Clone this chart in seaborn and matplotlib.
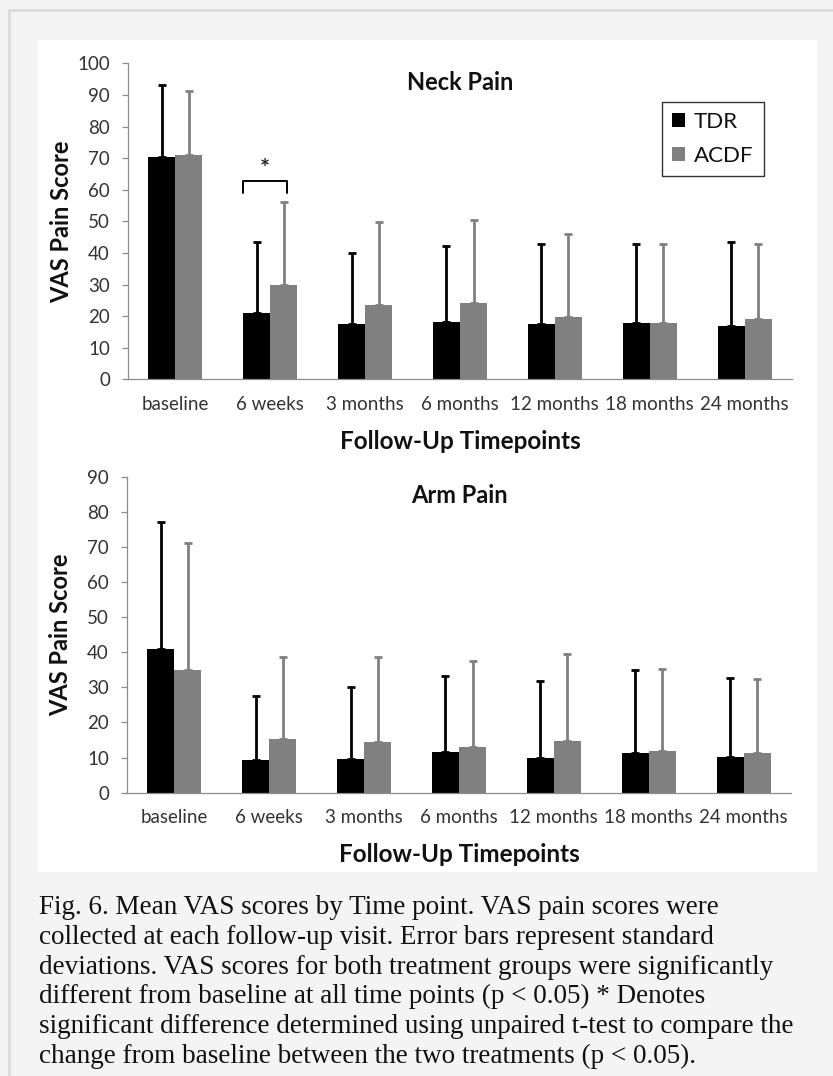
import numpy as np
import pandas as pd
import matplotlib
matplotlib.use('Agg')
import matplotlib.pyplot as plt
import seaborn as sns
from matplotlib.patches import Rectangle, Patch
from matplotlib.ticker import MultipleLocator

# data
timepoints = ['baseline', '6 weeks', '3 months', '6 months', '12 months', '18 months', '24 months']
groups = ['TDR', 'ACDF']

neck_tdr = [70.5, 21.0, 17.5, 18.0, 17.4, 17.9, 17.0]
neck_tdr_sd = [22.5, 22.5, 22.5, 24.2, 25.4, 24.9, 26.5]
neck_acdf = [71.0, 30.0, 23.5, 24.0, 19.6, 17.9, 19.2]
neck_acdf_sd = [20.3, 26.0, 26.3, 26.4, 26.3, 24.8, 23.6]

arm_tdr = [41.0, 9.3, 9.7, 11.6, 10.0, 11.2, 10.3]
arm_tdr_sd = [36.0, 18.2, 20.3, 21.6, 21.9, 23.7, 22.3]
arm_acdf = [35.0, 15.3, 14.5, 13.1, 14.7, 12.0, 11.2]
arm_acdf_sd = [36.0, 23.4, 24.2, 24.5, 24.7, 23.2, 21.1]

caption = ["Fig. 6. Mean VAS scores by Time point. VAS pain scores were",
           "collected at each follow-up visit. Error bars represent standard",
           "deviations. VAS scores for both treatment groups were significantly",
           "different from baseline at all time points (p < 0.05) * Denotes",
           "significant difference determined using unpaired t-test to compare the",
           "change from baseline between the two treatments (p < 0.05)."]

colors = {'TDR': '#000000', 'ACDF': '#808080'}

sns.set_style('white')
plt.rcParams['font.family'] = ['Lato', 'DejaVu Sans']

W, H = 833, 1076
fig = plt.figure(figsize=(W / 100, H / 100), dpi=100, facecolor='#f4f4f4')

# outer frame and white chart panel
fig.patches.append(Rectangle((9 / W, -0.1), 1.2, 1 - 10 / H + 0.1, transform=fig.transFigure,
                             facecolor='none', edgecolor='#dcdcdc', lw=2, zorder=-20))
fig.patches.append(Rectangle((38 / W, 1 - 872 / H), 779 / W, 832 / H, transform=fig.transFigure,
                             facecolor='white', edgecolor='none', zorder=-10))


def panel(rect, title, ymax, tdr, tdr_sd, acdf, acdf_sd):
    ax = fig.add_axes(rect)
    ax.set_facecolor('none')
    df = pd.DataFrame({
        'time': timepoints * 2,
        'group': ['TDR'] * 7 + ['ACDF'] * 7,
        'score': tdr + acdf,
        'sd': tdr_sd + acdf_sd,
    })
    sns.barplot(data=df, x='time', y='score', hue='group', hue_order=groups,
                palette=colors, width=0.57, errorbar=None, legend=False,
                saturation=1, ax=ax, linewidth=0)
    bars = ax.patches[:14]
    for bar, (_, row) in zip(bars, df.iterrows()):
        xc = bar.get_x() + bar.get_width() / 2
        c = colors[row['group']]
        ax.errorbar(xc, row['score'], yerr=[[0], [row['sd']]], fmt='none',
                    ecolor=c, elinewidth=2, capsize=3, capthick=2)
    ax.set_xlim(-0.5, 6.5)
    ax.set_ylim(0, ymax)
    ax.yaxis.set_major_locator(MultipleLocator(10))
    ax.set_xticks(np.arange(-0.5, 7, 1), minor=True)
    for s in ['top', 'right']:
        ax.spines[s].set_visible(False)
    for s in ['left', 'bottom']:
        ax.spines[s].set_color('#8c8c8c')
        ax.spines[s].set_linewidth(0.9)
    ax.tick_params(axis='x', which='major', length=0, pad=12, labelsize=13.5, labelcolor='#333333')
    ax.tick_params(axis='x', which='minor', length=5, width=0.9, color='#8c8c8c', direction='out')
    ax.tick_params(axis='y', length=4, width=0.9, color='#8c8c8c', direction='out', left=True,
                   pad=9, labelsize=13.5, labelcolor='#333333')
    ax.set_xlabel('Follow-Up Timepoints', fontsize=17.5, fontweight='bold', color='#111111')
    ax.set_ylabel('VAS Pain Score', fontsize=17, fontweight='bold', color='#111111')
    ax.xaxis.set_label_coords(0.5, -0.16)
    ax.yaxis.set_label_coords(-0.082, 0.5)
    ax.text(0.5, 0.94, title, transform=ax.transAxes, ha='center', va='center',
            fontsize=17, fontweight='bold', color='#111111')
    return ax


ax1 = panel([128 / W, 1 - 379.3 / H, 664 / W, 316 / H], 'Neck Pain', 100,
            neck_tdr, neck_tdr_sd, neck_acdf, neck_acdf_sd)
ax2 = panel([127 / W, 1 - 792.7 / H, 664 / W, 316 / H], 'Arm Pain', 90,
            arm_tdr, arm_tdr_sd, arm_acdf, arm_acdf_sd)

# significance bracket at 6 weeks
ax1.plot([1 - 0.29, 1 - 0.29, 1 + 0.18, 1 + 0.18], [59, 62.8, 62.8, 59], color='black', lw=1.4)
ax1.text(1 - 0.055, 66.5, '*', ha='center', va='center', fontsize=17, fontweight='bold')

handles = [Patch(facecolor=colors[g], edgecolor='none', label=g) for g in groups]
leg = ax1.legend(handles=handles, loc='upper left', bbox_to_anchor=(0.804, 0.878),
                 fontsize=16, frameon=True, fancybox=False, handlelength=0.6, handleheight=0.6,
                 handletextpad=0.4, labelspacing=0.62, borderpad=0.45, borderaxespad=0)
leg.get_frame().set_edgecolor('black')
leg.get_frame().set_linewidth(1.0)
for t in leg.get_texts():
    t.set_color('#111111')

fig.text(39 / W, 1 - 895 / H, '\n'.join(caption), ha='left', va='top',
         fontsize=19.5, family='Liberation Serif', linespacing=1.25, color='#111111')

fig.savefig('out.png', dpi=100, facecolor=fig.get_facecolor())
